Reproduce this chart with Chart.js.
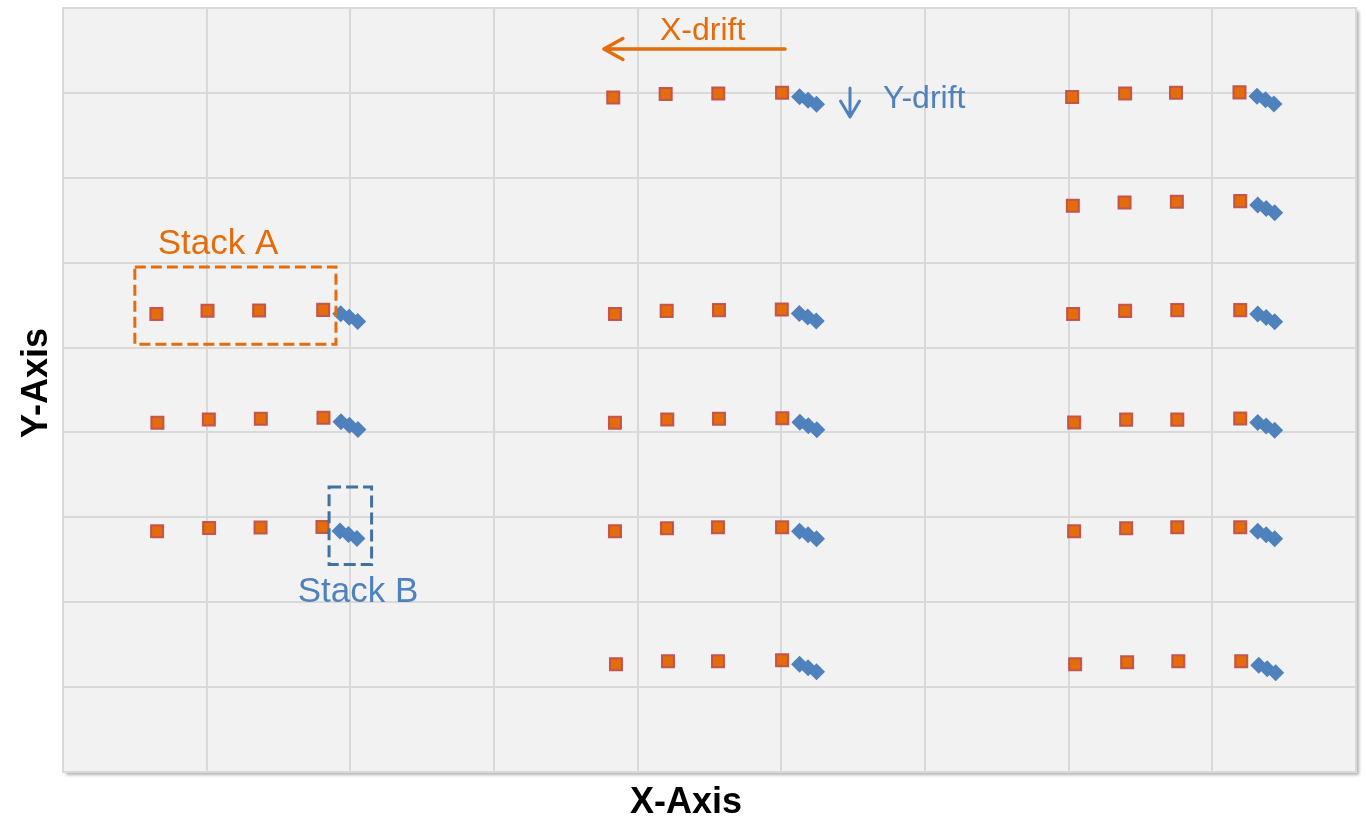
<!DOCTYPE html>
<html>
<head>
<meta charset="utf-8">
<script src="https://cdn.jsdelivr.net/npm/chart.js@4.4.1/dist/chart.umd.min.js"></script>
<style>
  html, body { margin: 0; padding: 0; background: #ffffff; }
  #wrap { width: 1366px; height: 820px; }
</style>
</head>
<body>
<div id="wrap"><canvas id="chart" width="1366" height="820"></canvas></div>
<script>
// Axis range and grid spacing
const axisMin = 0;
const axisMax = 9;
const gridStep = 1;

// Stack A markers (orange squares), one line per row of four
const stackAX = [
  0.650, 1.006, 1.365, 1.811,
  0.657, 1.015, 1.377, 1.813,
  0.655, 1.017, 1.375, 1.806,
  3.830, 4.195, 4.561, 5.005,
  3.842, 4.202, 4.566, 5.003,
  3.842, 4.206, 4.566, 5.007,
  3.842, 4.204, 4.559, 5.005,
  3.849, 4.211, 4.559, 5.005,
  7.024, 7.393, 7.747, 8.189,
  7.029, 7.389, 7.753, 8.194,
  7.031, 7.393, 7.756, 8.194,
  7.038, 7.400, 7.756, 8.194,
  7.038, 7.400, 7.756, 8.194,
  7.045, 7.407, 7.763, 8.201
];
const stackAY = [
  5.394, 5.433, 5.437, 5.444,
  4.113, 4.153, 4.160, 4.172,
  2.836, 2.875, 2.880, 2.887,
  7.947, 7.986, 7.994, 8.001,
  5.394, 5.432, 5.441, 5.449,
  4.113, 4.153, 4.160, 4.168,
  2.836, 2.871, 2.883, 2.883,
  1.269, 1.304, 1.304, 1.316,
  7.951, 7.994, 8.001, 8.006,
  6.670, 6.710, 6.717, 6.725,
  5.394, 5.432, 5.441, 5.441,
  4.116, 4.151, 4.151, 4.163,
  2.836, 2.871, 2.883, 2.883,
  1.269, 1.292, 1.304, 1.304
];

// Stack B markers (blue diamonds), three per row
const stackBX = [
  1.933, 1.992, 2.051,
  1.935, 1.994, 2.053,
  1.928, 1.987, 2.046,
  5.127, 5.186, 5.245,
  5.125, 5.184, 5.243,
  5.129, 5.188, 5.247,
  5.127, 5.186, 5.245,
  5.127, 5.186, 5.245,
  8.311, 8.370, 8.429,
  8.316, 8.375, 8.434,
  8.316, 8.375, 8.434,
  8.316, 8.375, 8.434,
  8.316, 8.375, 8.434,
  8.323, 8.382, 8.441
];
const stackBY = [
  5.397, 5.356, 5.308,
  4.125, 4.084, 4.036,
  2.840, 2.799, 2.751,
  7.954, 7.913, 7.865,
  5.402, 5.361, 5.313,
  4.121, 4.080, 4.032,
  2.836, 2.795, 2.747,
  1.269, 1.228, 1.180,
  7.959, 7.918, 7.870,
  6.678, 6.637, 6.589,
  5.394, 5.353, 5.305,
  4.116, 4.075, 4.027,
  2.836, 2.795, 2.747,
  1.257, 1.216, 1.168
];

// Text
const xTitle = 'X-Axis';
const yTitle = 'Y-Axis';
const stackALabel = 'Stack A';
const stackBLabel = 'Stack B';
const xDriftLabel = 'X-drift';
const yDriftLabel = 'Y-drift';

const ORANGE = '#E46C0A';
const BLUE = '#4F81BD';
const DARK_BLUE = '#41719C';
const FONT = "'Liberation Sans', Arial, sans-serif";

const toPoints = (xs, ys) => xs.map((x, i) => ({ x, y: ys[i] }));

// Plot background with a soft drop shadow and a light frame
const framePlugin = {
  id: 'frame',
  beforeDraw(chart) {
    const { ctx, chartArea: a } = chart;
    ctx.save();
    ctx.fillStyle = '#ffffff';
    ctx.fillRect(0, 0, chart.width, chart.height);
    ctx.shadowColor = 'rgba(0,0,0,0.30)';
    ctx.shadowBlur = 3;
    ctx.shadowOffsetX = 3;
    ctx.shadowOffsetY = 3;
    ctx.fillStyle = '#F2F2F2';
    ctx.fillRect(a.left, a.top, a.right - a.left, a.bottom - a.top);
    ctx.restore();
  },
  beforeDatasetsDraw(chart) {
    const { ctx, chartArea: a } = chart;
    ctx.save();
    ctx.strokeStyle = '#D9D9D9';
    ctx.lineWidth = 2;
    ctx.strokeRect(a.left, a.top, a.right - a.left, a.bottom - a.top);
    ctx.restore();
  }
};

// Callouts: dashed boxes, labels and drift arrows, placed in data units
const calloutPlugin = {
  id: 'callouts',
  afterDatasetsDraw(chart) {
    const { ctx } = chart;
    const X = v => chart.scales.x.getPixelForValue(v);
    const Y = v => chart.scales.y.getPixelForValue(v);
    ctx.save();

    // dashed boxes
    ctx.lineWidth = 3;
    ctx.setLineDash([11, 5]);
    ctx.strokeStyle = ORANGE;
    ctx.strokeRect(X(0.50), Y(5.95), X(1.90) - X(0.50), Y(5.04) - Y(5.95));
    ctx.strokeStyle = DARK_BLUE;
    ctx.setLineDash([12, 5]);
    ctx.strokeRect(X(1.852), Y(3.358), X(2.148) - X(1.852), Y(2.444) - Y(3.358));
    ctx.setLineDash([]);

    // labels
    ctx.textBaseline = 'alphabetic';
    ctx.textAlign = 'left';
    ctx.font = `35px ${FONT}`;
    ctx.fillStyle = ORANGE;
    ctx.fillText(stackALabel, X(0.659), Y(6.10));
    ctx.fillStyle = BLUE;
    ctx.fillText(stackBLabel, X(1.634), Y(2.00));
    ctx.font = `32px ${FONT}`;
    ctx.fillStyle = ORANGE;
    ctx.fillText(xDriftLabel, X(4.155), Y(8.62));
    ctx.fillStyle = BLUE;
    ctx.fillText(yDriftLabel, X(5.708), Y(7.82));

    // X-drift arrow (pointing left)
    ctx.lineCap = 'round';
    ctx.lineJoin = 'round';
    ctx.strokeStyle = ORANGE;
    ctx.lineWidth = 3.5;
    const ax0 = X(5.026), ax1 = X(3.765), ay = Y(8.517);
    ctx.beginPath();
    ctx.moveTo(ax0, ay); ctx.lineTo(ax1, ay);
    ctx.moveTo(ax1 + 19, ay - 10.5); ctx.lineTo(ax1, ay); ctx.lineTo(ax1 + 19, ay + 10.5);
    ctx.stroke();

    // Y-drift arrow (pointing down)
    ctx.strokeStyle = BLUE;
    ctx.lineWidth = 3;
    const bx = X(5.478), by0 = Y(8.057), by1 = Y(7.716);
    ctx.beginPath();
    ctx.moveTo(bx, by0); ctx.lineTo(bx, by1);
    ctx.moveTo(bx - 9.5, by1 - 16); ctx.lineTo(bx, by1); ctx.lineTo(bx + 9.5, by1 - 16);
    ctx.stroke();

    // axis titles
    ctx.fillStyle = '#000000';
    ctx.font = `bold 36px ${FONT}`;
    ctx.textAlign = 'center';
    ctx.textBaseline = 'middle';
    ctx.fillText(xTitle, 686, 803);
    ctx.translate(37, 383);
    ctx.rotate(-Math.PI / 2);
    ctx.fillText(yTitle, 0, 0);
    ctx.restore();
  }
};

const gridOpts = { color: '#D9D9D9', lineWidth: 2, drawTicks: false };

new Chart(document.getElementById('chart'), {
  type: 'scatter',
  data: {
    datasets: [
      {
        label: stackBLabel,
        data: toPoints(stackBX, stackBY),
        pointStyle: 'rectRot',
        pointRadius: 8.5,
        pointHoverRadius: 8.5,
        backgroundColor: BLUE,
        borderColor: BLUE,
        borderWidth: 0,
        order: 0
      },
      {
        label: stackALabel,
        data: toPoints(stackAX, stackAY),
        pointStyle: 'rect',
        pointRadius: 8.5,
        pointHoverRadius: 8.5,
        backgroundColor: ORANGE,
        borderColor: 'rgba(192,80,77,0.95)',
        borderWidth: 2,
        order: 1
      }
    ]
  },
  options: {
    responsive: false,
    animation: false,
    events: [],
    layout: { autoPadding: false, padding: { left: 0, top: 8, right: 10, bottom: 0 } },
    plugins: { legend: { display: false }, tooltip: { enabled: false } },
    scales: {
      x: {
        type: 'linear', min: axisMin, max: axisMax,
        ticks: { display: false, stepSize: gridStep },
        grid: gridOpts,
        border: { display: false },
        afterFit(scale) { scale.height = 48; }
      },
      y: {
        type: 'linear', min: axisMin, max: axisMax,
        ticks: { display: false, stepSize: gridStep },
        grid: gridOpts,
        border: { display: false },
        afterFit(scale) { scale.width = 63; }
      }
    }
  },
  plugins: [framePlugin, calloutPlugin]
});
</script>
</body>
</html>
